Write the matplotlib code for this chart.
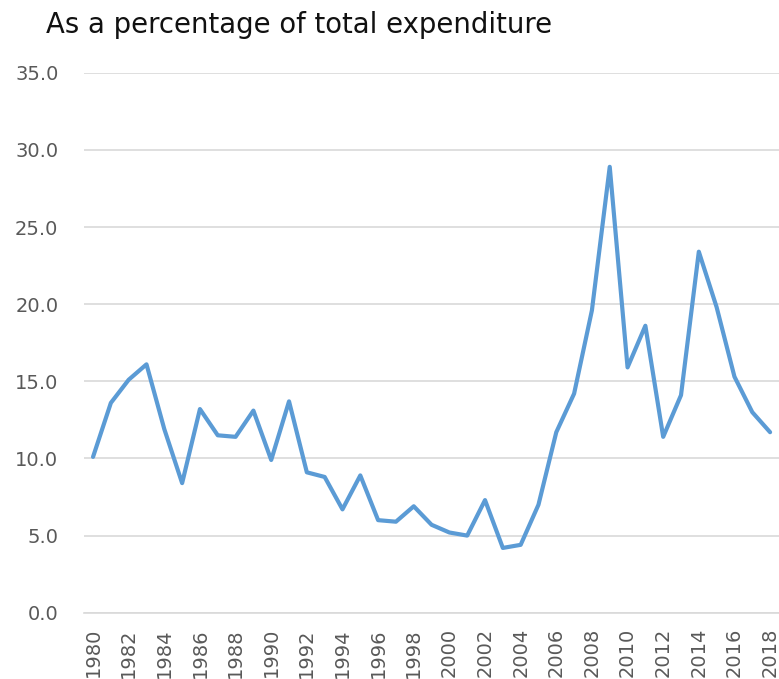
import matplotlib.pyplot as plt

plt.rcParams['font.family'] = ['DejaVu Sans']

# 年份与占总支出的百分比
years = list(range(1980, 2019))
share = [
    10.1, 13.6, 15.1, 16.1, 11.9, 8.4, 13.2, 11.5, 11.4, 13.1,
    9.9, 13.7, 9.1, 8.8, 6.7, 8.9, 6.0, 5.9, 6.9, 5.7,
    5.2, 5.0, 7.3, 4.2, 4.4, 7.0, 11.7, 14.2, 19.6, 28.9,
    15.9, 18.6, 11.4, 14.1, 23.4, 19.8, 15.3, 13.0, 11.7,
]
tick_years = years[::2]
title = 'As a percentage of total expenditure'

fig = plt.figure(figsize=(7.79, 6.79), dpi=100)
ax = fig.add_axes([0.108, 0.0976, 0.892, 0.7953])

ax.plot(years, share, color='#5B9BD5', linewidth=3, solid_capstyle='round',
        solid_joinstyle='round', zorder=3)

ax.set_ylim(0, 35)
ax.set_yticks(range(0, 36, 5))
ax.set_yticklabels([f'{v:.1f}' for v in range(0, 36, 5)])
ax.set_xlim(1979.5, 2018.5)
ax.set_xticks(tick_years)
ax.set_xticklabels([str(y) for y in tick_years], rotation=90, va='top')

ax.grid(axis='y', color='#D9D9D9', linewidth=1.2, zorder=0)
for s in ['top', 'right', 'left']:
    ax.spines[s].set_visible(False)
ax.spines['bottom'].set_color('#D9D9D9')
ax.spines['bottom'].set_linewidth(1.2)
ax.tick_params(axis='both', length=0, colors='#595959', labelsize=14)
ax.tick_params(axis='y', pad=18.5)
ax.tick_params(axis='x', pad=11)

fig.text(0.059, 0.951, title, fontsize=19.8, color='#111111', ha='left', va='baseline')

fig.savefig('out.png', dpi=100)
